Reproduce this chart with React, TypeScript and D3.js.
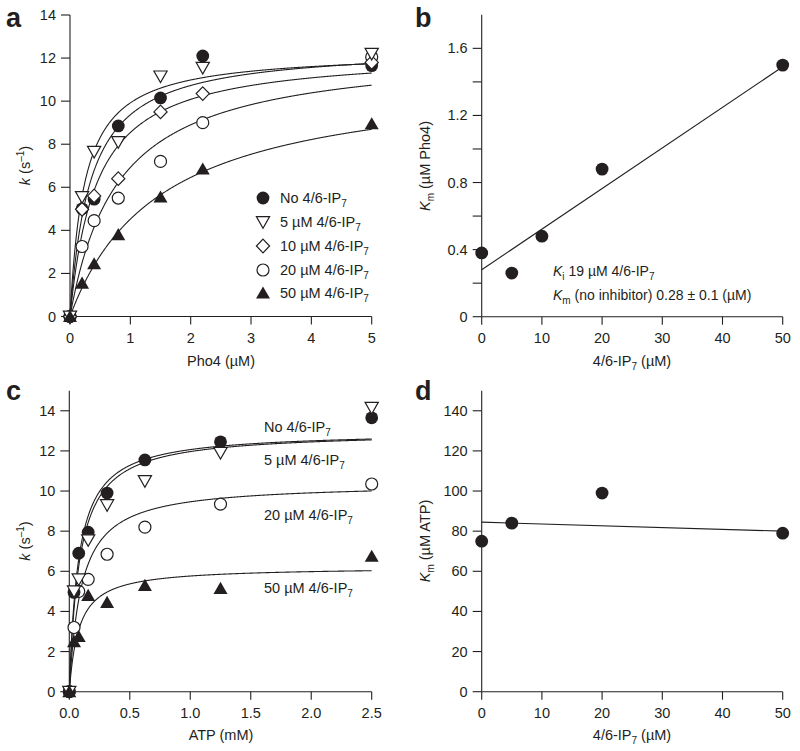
import React from 'react';
import * as d3 from 'd3';

const FONT = "'Liberation Sans', Arial, Helvetica, sans-serif";
const INK = '#231f20';

// ---------- Panel a: k vs Pho4 ----------
const phoX = [0, 0.2, 0.4, 0.8, 1.5, 2.2, 5];
const phoNo = [0, 5.0, 5.45, 8.85, 10.15, 12.1, 11.65];
const pho5 = [0, 5.55, 7.65, 8.1, 11.15, 11.55, 12.2];
const pho10 = [0, 4.98, 5.6, 6.4, 9.5, 10.35, 11.8];
const pho20 = [0, 3.25, 4.45, 5.5, 7.2, 9.0, 12.05];
const pho50 = [0, 1.55, 2.45, 3.8, 5.55, 6.85, 8.95];
const legendA = ['No 4/6-IP', '5 µM 4/6-IP', '10 µM 4/6-IP', '20 µM 4/6-IP', '50 µM 4/6-IP'];
const markersA = ['fcircle', 'otri', 'diamond', 'ocircle', 'ftri'];
const fitVmaxA = [12.55, 12.3, 12.3, 12.46, 11.3];
const fitKmA = [0.34, 0.24, 0.44, 0.8, 1.5];
const ticksAX = [0, 1, 2, 3, 4, 5];
const ticksAY = [0, 2, 4, 6, 8, 10, 12, 14];

// ---------- Panel b: Km(Pho4) vs inhibitor ----------
const ipB = [0, 5, 10, 20, 50];
const kmPho4 = [0.38, 0.26, 0.48, 0.88, 1.5];
const fitLineBx = [0, 50];
const fitLineBy = [0.28, 1.49];
const ticksBX = [0, 10, 20, 30, 40, 50];
const ticksBY = [0, 0.2, 0.4, 0.6, 0.8, 1.0, 1.2, 1.4, 1.6];
const labelsBY = [0, 0.4, 0.8, 1.2, 1.6];

// ---------- Panel c: k vs ATP ----------
const atpX = [0, 0.039, 0.078, 0.156, 0.3125, 0.625, 1.25, 2.5];
const atpNo = [0, 4.95, 6.9, 7.95, 9.9, 11.55, 12.45, 13.65];
const atp5 = [0, 5.0, 5.6, 7.55, 9.3, 10.5, 11.9, 14.15];
const atp20 = [0, 3.2, 5.0, 5.6, 6.85, 8.2, 9.35, 10.35];
const atp50 = [0, 2.5, 2.75, 4.8, 4.45, 5.3, 5.15, 6.75];
const labelsC = ['No 4/6-IP', '5 µM 4/6-IP', '20 µM 4/6-IP', '50 µM 4/6-IP'];
const markersC = ['fcircle', 'otri', 'ocircle', 'ftri'];
const fitVmaxC = [12.97, 12.97, 10.4, 6.22];
const fitKmC = [0.075, 0.084, 0.099, 0.079];
const ticksCX = [0, 0.5, 1.0, 1.5, 2.0, 2.5];
const ticksCY = [0, 2, 4, 6, 8, 10, 12, 14];

// ---------- Panel d: Km(ATP) vs inhibitor ----------
const ipD = [0, 5, 20, 50];
const kmAtp = [75, 84, 99, 79];
const fitLineDx = [0, 50];
const fitLineDy = [84.5, 80];
const ticksDX = [0, 10, 20, 30, 40, 50];
const ticksDY = [0, 20, 40, 60, 80, 100, 120, 140];

type Sc = d3.ScaleLinear<number, number>;

function Marker({ type, cx, cy }: { type: string; cx: number; cy: number }) {
  const sw = 1.2;
  if (type === 'fcircle') return <circle cx={cx} cy={cy} r={6.4} fill={INK} />;
  if (type === 'ocircle') return <circle cx={cx} cy={cy} r={6.0} fill="#fff" stroke={INK} strokeWidth={sw} />;
  if (type === 'otri')
    return <path d={`M${cx - 6.6},${cy - 5.4}L${cx + 6.6},${cy - 5.4}L${cx},${cy + 6.2}Z`} fill="#fff" stroke={INK} strokeWidth={sw} strokeLinejoin="miter" />;
  if (type === 'ftri')
    return <path d={`M${cx},${cy - 6.6}L${cx + 7},${cy + 5.6}L${cx - 7},${cy + 5.6}Z`} fill={INK} />;
  if (type === 'diamond')
    return <path d={`M${cx},${cy - 6.8}L${cx + 6.6},${cy}L${cx},${cy + 6.8}L${cx - 6.6},${cy}Z`} fill="#fff" stroke={INK} strokeWidth={sw} />;
  return null;
}

function Axes({ xs, ys, xTicks, yTicks, yLabels, xFmt, yFmt }: {
  xs: Sc; ys: Sc; xTicks: number[]; yTicks: number[]; yLabels?: number[];
  xFmt: (v: number) => string; yFmt: (v: number) => string;
}) {
  const [xa, xb] = xs.range();
  const [ya, yb] = ys.range();
  const labs = yLabels || yTicks;
  return (
    <g stroke={INK} fill="none" strokeWidth={1.1}>
      <line x1={xa} x2={xb} y1={ya} y2={ya} />
      <line x1={xa} x2={xa} y1={ya} y2={yb} />
      {xTicks.map((t) => (
        <g key={'x' + t}>
          <line x1={xs(t)} x2={xs(t)} y1={ya} y2={ya + 8} />
          <text x={xs(t)} y={ya + 26} textAnchor="middle" fill={INK} stroke="none" fontSize={14.5} fontFamily={FONT}>{xFmt(t)}</text>
        </g>
      ))}
      {yTicks.map((t) => (
        <g key={'y' + t}>
          <line x1={xa - 9} x2={xa} y1={ys(t)} y2={ys(t)} />
          {labs.some((l) => Math.abs(l - t) < 1e-9) && (
            <text x={xa - 14} y={ys(t) + 5} textAnchor="end" fill={INK} stroke="none" fontSize={14.5} fontFamily={FONT}>{yFmt(t)}</text>
          )}
        </g>
      ))}
    </g>
  );
}

function IP7({ x, y, prefix, anchor }: { x: number; y: number; prefix: string; anchor?: string }) {
  return (
    <text x={x} y={y} fontSize={14.5} fontFamily={FONT} fill={INK} textAnchor={anchor || 'start'}>
      {prefix}<tspan fontSize={10} dy={4}>7</tspan>
    </text>
  );
}

function YTitleK({ cx, cy }: { cx: number; cy: number }) {
  return (
    <text transform={`translate(${cx},${cy}) rotate(-90)`} textAnchor="middle" fontSize={14.5} fontFamily={FONT} fill={INK}>
      <tspan fontStyle="italic">k</tspan> (s<tspan fontSize={10} dy={-6}>–1</tspan><tspan dy={6}>)</tspan>
    </text>
  );
}

function YTitleKm({ cx, cy, unit }: { cx: number; cy: number; unit: string }) {
  return (
    <text transform={`translate(${cx},${cy}) rotate(-90)`} textAnchor="middle" fontSize={14.5} fontFamily={FONT} fill={INK}>
      <tspan fontStyle="italic">K</tspan><tspan fontSize={10} dy={4}>m</tspan><tspan dy={-4}> (µM {unit})</tspan>
    </text>
  );
}

function fitCurve(xs: Sc, ys: Sc, V: number, K: number, xmax: number) {
  const pts = d3.range(0, 801).map((i) => {
    const x = (xmax * i) / 800;
    return [x, (V * x) / (K + x)] as [number, number];
  });
  return d3.line<[number, number]>().x((d) => xs(d[0])).y((d) => ys(d[1]))(pts) || '';
}

export default function App() {
  // panel a
  const xsA = d3.scaleLinear().domain([0, 5]).range([70, 371.7]);
  const ysA = d3.scaleLinear().domain([0, 14]).range([316.5, 15]);
  const seriesA = [phoNo, pho5, pho10, pho20, pho50];
  const drawOrderA = [0, 3, 2, 1, 4];
  // panel b
  const xsB = d3.scaleLinear().domain([0, 50]).range([481.7, 782.7]);
  const ysB = d3.scaleLinear().domain([0, 1.8]).range([316.7, 14.8]);
  // panel c
  const xsC = d3.scaleLinear().domain([0, 2.5]).range([69.3, 371.7]);
  const ysC = d3.scaleLinear().domain([0, 15]).range([691.7, 390.7]);
  const seriesC = [atpNo, atp5, atp20, atp50];
  const drawOrderC = [2, 0, 1, 3];
  // panel d
  const xsD = d3.scaleLinear().domain([0, 50]).range([481.7, 782.7]);
  const ysD = d3.scaleLinear().domain([0, 150]).range([691.7, 390.7]);

  const fInt = (v: number) => String(v);
  const f1 = d3.format('.1f');
  const legendRows = [203, 227, 251, 275, 298];
  const labelCRows = [432, 465, 520, 593];

  const lineB = d3.line<number>().x((_, i) => xsB(fitLineBx[i])).y((d) => ysB(d))(fitLineBy) || '';
  const lineD = d3.line<number>().x((_, i) => xsD(fitLineDx[i])).y((d) => ysD(d))(fitLineDy) || '';

  return (
    <svg width={800} height={751} style={{ position: 'absolute', left: 0, top: 0, background: '#fff' }} fontFamily={FONT}>
      <rect width={800} height={751} fill="#fff" />
      {/* ---------- a ---------- */}
      <text x={6} y={27} fontSize={27} fontWeight="bold" fill={INK}>a</text>
      <Axes xs={xsA} ys={ysA} xTicks={ticksAX} yTicks={ticksAY} xFmt={fInt} yFmt={fInt} />
      {fitVmaxA.map((V, i) => (
        <path key={'fa' + i} d={fitCurve(xsA, ysA, V, fitKmA[i], 5)} fill="none" stroke={INK} strokeWidth={1.1} />
      ))}
      {drawOrderA.map((si) =>
        phoX.map((x, j) => <Marker key={`ma${si}-${j}`} type={markersA[si]} cx={xsA(x)} cy={ysA(seriesA[si][j])} />)
      )}
      {legendA.map((lab, i) => (
        <g key={'lg' + i}>
          <Marker type={markersA[i]} cx={263} cy={legendRows[i] - 5} />
          <IP7 x={280} y={legendRows[i]} prefix={lab} />
        </g>
      ))}
      <YTitleK cx={30} cy={165.5} />
      <text x={221} y={366} textAnchor="middle" fontSize={14.5} fill={INK}>Pho4 (µM)</text>

      {/* ---------- b ---------- */}
      <text x={415} y={27} fontSize={27} fontWeight="bold" fill={INK}>b</text>
      <Axes xs={xsB} ys={ysB} xTicks={ticksBX} yTicks={ticksBY} yLabels={labelsBY} xFmt={fInt} yFmt={(v) => (v === 0 ? '0' : f1(v))} />
      <path d={lineB} fill="none" stroke={INK} strokeWidth={1.1} />
      {ipB.map((x, i) => <Marker key={'mb' + i} type="fcircle" cx={xsB(x)} cy={ysB(kmPho4[i])} />)}
      <text x={553} y={276} fontSize={14} fill={INK}>
        <tspan fontStyle="italic">K</tspan><tspan fontSize={10} dy={4}>i</tspan><tspan dy={-4}> 19 µM 4/6-IP</tspan><tspan fontSize={10} dy={4}>7</tspan>
      </text>
      <text x={553} y={300} fontSize={14} fill={INK}>
        <tspan fontStyle="italic">K</tspan><tspan fontSize={10} dy={4}>m</tspan><tspan dy={-4}> (no inhibitor) 0.28 ± 0.1 (µM)</tspan>
      </text>
      <YTitleKm cx={430} cy={166} unit="Pho4" />
      <text x={632} y={366} textAnchor="middle" fontSize={14.5} fill={INK}>
        4/6-IP<tspan fontSize={10} dy={4}>7</tspan><tspan dy={-4}> (µM)</tspan>
      </text>

      {/* ---------- c ---------- */}
      <text x={6} y={400} fontSize={27} fontWeight="bold" fill={INK}>c</text>
      <Axes xs={xsC} ys={ysC} xTicks={ticksCX} yTicks={ticksCY} xFmt={f1} yFmt={fInt} />
      {fitVmaxC.map((V, i) => (
        <path key={'fc' + i} d={fitCurve(xsC, ysC, V, fitKmC[i], 2.5)} fill="none" stroke={INK} strokeWidth={1.1} />
      ))}
      {drawOrderC.map((si) =>
        atpX.map((x, j) => <Marker key={`mc${si}-${j}`} type={markersC[si]} cx={xsC(x)} cy={ysC(seriesC[si][j])} />)
      )}
      {labelsC.map((lab, i) => <IP7 key={'lc' + i} x={264} y={labelCRows[i]} prefix={lab} />)}
      <YTitleK cx={30} cy={541} />
      <text x={221} y={740} textAnchor="middle" fontSize={14.5} fill={INK}>ATP (mM)</text>

      {/* ---------- d ---------- */}
      <text x={415} y={400} fontSize={27} fontWeight="bold" fill={INK}>d</text>
      <Axes xs={xsD} ys={ysD} xTicks={ticksDX} yTicks={ticksDY} xFmt={fInt} yFmt={fInt} />
      <path d={lineD} fill="none" stroke={INK} strokeWidth={1.1} />
      {ipD.map((x, i) => <Marker key={'md' + i} type="fcircle" cx={xsD(x)} cy={ysD(kmAtp[i])} />)}
      <YTitleKm cx={430} cy={541} unit="ATP" />
      <text x={632} y={740} textAnchor="middle" fontSize={14.5} fill={INK}>
        4/6-IP<tspan fontSize={10} dy={4}>7</tspan><tspan dy={-4}> (µM)</tspan>
      </text>
    </svg>
  );
}
